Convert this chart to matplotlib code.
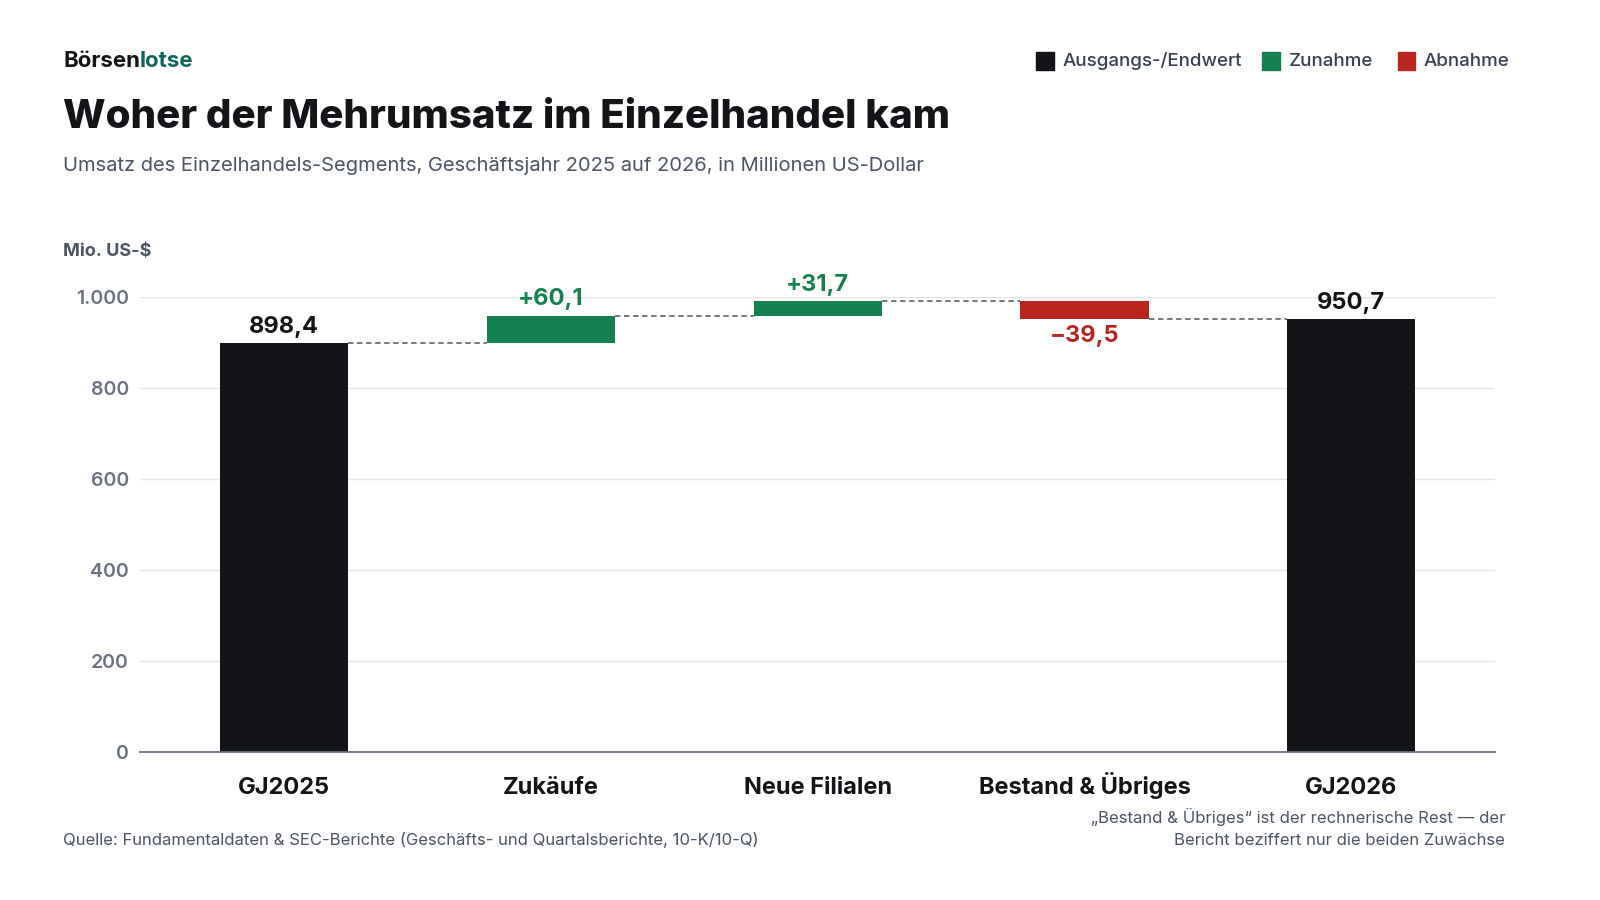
import matplotlib.pyplot as plt
import numpy

plt.rcParams['font.family'] = ['Inter', 'DejaVu Sans']

categories = ['GJ2025', 'Zukäufe', 'Neue Filialen', 'Bestand & Übriges', 'GJ2026']
start_value = 898.4
changes = [60.1, 31.7, -39.5]
end_value = 950.7
y_ticks = [0, 200, 400, 600, 800, 1000]
y_tick_labels = ['0', '200', '400', '600', '800', '1.000']

BLACK = '#121418'
GREEN = '#138150'
RED = '#b8261f'
GRID = '#e3e4e6'
TEXT = '#4b5563'

fig = plt.figure(figsize=(16, 9), dpi=100)
ax = fig.add_axes([0.0875, 0.1644, 0.847, 0.5056])

# bar bottoms and heights
bottoms = [0]
heights = [start_value]
colors = [BLACK]
level = start_value
for c in changes:
    bottoms.append(level if c > 0 else level + c)
    heights.append(abs(c))
    colors.append(GREEN if c > 0 else RED)
    level += c
bottoms.append(0)
heights.append(end_value)
colors.append(BLACK)

x = numpy.arange(len(categories))
width = 0.48
ax.bar(x, heights, bottom=bottoms, width=width, color=colors, zorder=3)

# connectors
levels = [start_value]
for c in changes:
    levels.append(levels[-1] + c)
for i, lv in enumerate(levels):
    ax.plot([x[i] + width / 2, x[i + 1] - width / 2], [lv, lv],
            color='#6b6f76', lw=1.3, ls=(0, (3, 2)), zorder=2)

# value labels
ax.text(x[0], start_value + 12, '898,4', ha='center', va='bottom',
        fontsize=17, fontweight='bold', color=BLACK)
ax.text(x[-1], end_value + 12, '950,7', ha='center', va='bottom',
        fontsize=17, fontweight='bold', color=BLACK)
for i, c in enumerate(changes):
    top = bottoms[i + 1] + heights[i + 1]
    if c > 0:
        ax.text(x[i + 1], top + 12, '+' + f'{c:.1f}'.replace('.', ','),
                ha='center', va='bottom', fontsize=17, fontweight='bold',
                color=GREEN)
    else:
        ax.text(x[i + 1], bottoms[i + 1] - 12,
                '\u2212' + f'{-c:.1f}'.replace('.', ','), ha='center',
                va='top', fontsize=17, fontweight='bold', color=RED)

ax.set_xlim(-0.539, 4.539)
ax.set_ylim(0, 1000)
ax.set_yticks(y_ticks)
ax.set_yticklabels(y_tick_labels, fontsize=14, color='#6b7280',
                   fontweight='semibold')
ax.set_xticks(x)
ax.set_xticklabels(categories, fontsize=17, fontweight='bold', color=BLACK,
                   va='baseline')
ax.tick_params(axis='y', length=0, pad=8)
ax.tick_params(axis='x', length=0, pad=30)
ax.grid(axis='y', color=GRID, lw=1, zorder=0)
for s in ['top', 'right', 'left']:
    ax.spines[s].set_visible(False)
ax.spines['bottom'].set_color('#6b7280')
ax.spines['bottom'].set_linewidth(1.3)
ax.spines['bottom'].set_zorder(4)

# header
logo = fig.text(0.0394, 0.932, 'Börsen', fontsize=16, fontweight='bold',
                color=BLACK, va='center')
renderer = fig.canvas.get_renderer()
logo_box = logo.get_window_extent(renderer).transformed(
    fig.transFigure.inverted())
fig.text(logo_box.x1, 0.932, 'lotse', fontsize=16, fontweight='bold',
         color='#11655f', va='center')
fig.text(0.0394, 0.870, 'Woher der Mehrumsatz im Einzelhandel kam',
         fontsize=29, fontweight='heavy', color=BLACK, va='center')
fig.text(0.0394, 0.816, 'Umsatz des Einzelhandels-Segments, Geschäftsjahr 2025 '
         'auf 2026, in Millionen US-Dollar', fontsize=14.5, color=TEXT,
         va='center')
fig.text(0.0394, 0.720, 'Mio. US-$', fontsize=13, fontweight='bold',
         color=TEXT, va='center')

# legend
legend_items = [('Ausgangs-/Endwert', BLACK, 0.6475),
                ('Zunahme', GREEN, 0.789),
                ('Abnahme', RED, 0.8735)]
for label, color, lx in legend_items:
    fig.patches.append(plt.Rectangle((lx, 0.9225), 0.011, 0.0195,
                                     transform=fig.transFigure, color=color))
    fig.text(lx + 0.0165, 0.932, label, fontsize=13.5, color='#374151',
             va='center', fontweight='medium')

# footer
fig.text(0.0394, 0.067, 'Quelle: Fundamentaldaten & SEC-Berichte (Geschäfts- '
         'und Quartalsberichte, 10-K/10-Q)', fontsize=12, color=TEXT,
         va='center')
fig.text(0.9406, 0.080, '\u201eBestand & Übriges\u201c ist der rechnerische '
         'Rest \u2014 der\nBericht beziffert nur die beiden Zuwächse',
         fontsize=12, color=TEXT, va='center', ha='right', linespacing=1.6)

fig.savefig('out.png', dpi=100, facecolor='white')
